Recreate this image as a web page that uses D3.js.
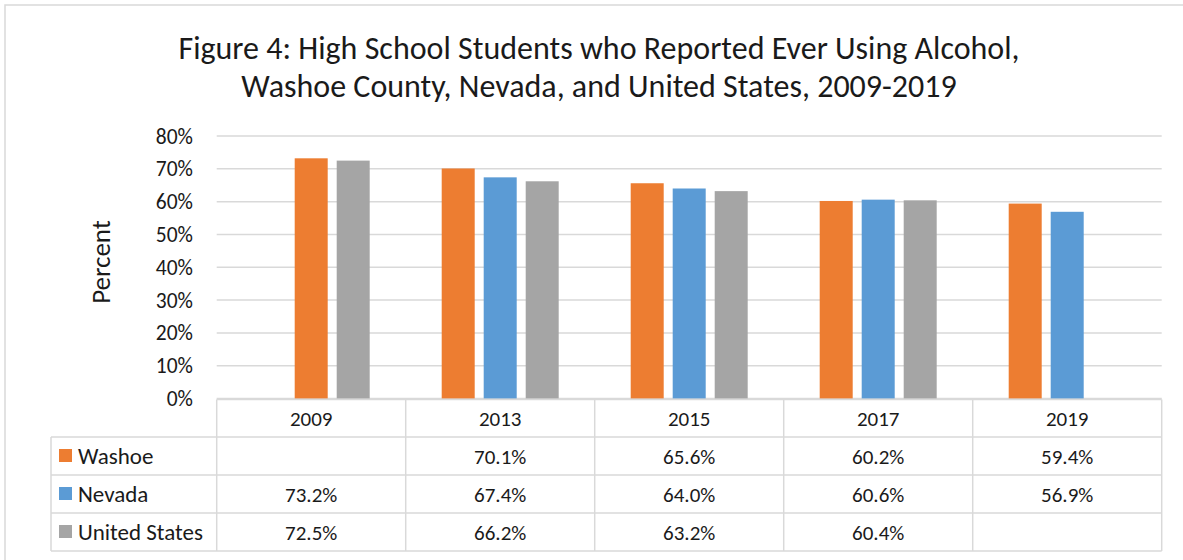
<!DOCTYPE html>
<meta charset="utf-8">
<script src="https://cdn.jsdelivr.net/npm/d3@7"></script>
<style>
body {
	margin: 0;
	background: white;
}
svg text {
	font-family: Carlito, Calibri, Lato, sans-serif;
	fill: #1a1a1a;
}
.grid line, .table line {
	stroke: #d9d9d9;
	stroke-width: 1.5px;
}
</style>
<body>
<svg id="chart"></svg>
<script>
'use strict'

// data
const years    = ["2009", "2013", "2015", "2017", "2019"]
const series   = ["Washoe", "Nevada", "United States"]
const washoe   = [null, 70.1, 65.6, 60.2, 59.4]
const nevada   = [73.2, 67.4, 64.0, 60.6, 56.9]
const usa      = [72.5, 66.2, 63.2, 60.4, null]
const yTicks   = [0, 10, 20, 30, 40, 50, 60, 70, 80]
const titleLines = ["Figure 4: High School Students who Reported Ever Using Alcohol,",
                    "Washoe County, Nevada, and United States, 2009-2019"]

const values = [washoe, nevada, usa]
const colors = ["#ed7d31", "#5b9bd5", "#a5a5a5"]

// the 2009 Nevada point is painted orange in the original
function barColor(si, yi) {
	if (series[si] === "Nevada" && years[yi] === "2009") return colors[0]
	return colors[si]
}

const width  = 1183,
      height = 560,
      plotLeft  = 216.7,
      plotRight = 1161.7,
      plotTop   = 136,
      plotBottom = 398.5,
      tableLeft = 51,
      rowTops   = [399.5, 437, 475, 513, 551]

const svg = d3.select("#chart")
	.attr("width", width)
	.attr("height", height)

// chart border (right and bottom edges fall outside the picture)
svg.append("rect")
	.attr("x", 5).attr("y", 5)
	.attr("width", width + 20).attr("height", height + 20)
	.attr("fill", "white")
	.attr("stroke", "#d9d9d9")
	.attr("stroke-width", 1.5)

// title
svg.append("g").selectAll("text")
	.data(titleLines)
	.enter().append("text")
	.attr("x", 599)
	.attr("y", (d, i) => 59 + i * 38)
	.attr("text-anchor", "middle")
	.style("font-size", "32px")
	.text(d => d)

const x0 = d3.scaleBand().domain(years).range([plotLeft, plotRight])
const x1 = d3.scaleBand().domain(series).range([36, 153]).paddingInner(9 / 42)
const y  = d3.scaleLinear().domain([0, 80]).range([plotBottom, plotTop])

// gridlines
svg.append("g")
	.attr("class", "grid")
	.selectAll("line")
	.data(yTicks)
	.enter().append("line")
	.attr("x1", plotLeft).attr("x2", plotRight)
	.attr("y1", d => y(d)).attr("y2", d => y(d))

// y axis labels
svg.append("g").selectAll("text")
	.data(yTicks)
	.enter().append("text")
	.attr("x", 193)
	.attr("y", d => y(d) + 7.5)
	.attr("text-anchor", "end")
	.style("font-size", "21.5px")
	.text(d => d + "%")

svg.append("text")
	.attr("transform", "translate(110,262) rotate(-90)")
	.attr("text-anchor", "middle")
	.style("font-size", "27px")
	.text("Percent")

// bars
const groups = svg.append("g").selectAll("g")
	.data(years)
	.enter().append("g")
	.attr("transform", d => "translate(" + x0(d) + ",0)")

groups.selectAll("rect")
	.data((yr, yi) => series.map((s, si) => ({ s, si, yi, v: values[si][yi] })).filter(d => d.v !== null))
	.enter().append("rect")
	.attr("x", d => x1(d.s))
	.attr("width", x1.bandwidth())
	.attr("y", d => y(d.v))
	.attr("height", d => y(0) - y(d.v))
	.attr("fill", d => barColor(d.si, d.yi))

// data table
const table = svg.append("g").attr("class", "table")
// horizontal lines
table.selectAll("line.h")
	.data(rowTops)
	.enter().append("line")
	.attr("x1", (d, i) => i === 0 ? plotLeft : tableLeft)
	.attr("x2", plotRight)
	.attr("y1", d => d).attr("y2", d => d)
// vertical lines
const vx = [tableLeft].concat(years.map(d => x0(d)), [plotRight])
table.selectAll("line.v")
	.data(vx)
	.enter().append("line")
	.attr("x1", d => d).attr("x2", d => d)
	.attr("y1", (d, i) => i === 0 ? rowTops[1] : rowTops[0])
	.attr("y2", rowTops[rowTops.length - 1])

const rowMid = i => (rowTops[i] + rowTops[i + 1]) / 2

// header years
table.selectAll("text.year")
	.data(years)
	.enter().append("text")
	.attr("x", d => x0(d) + x0.bandwidth() / 2)
	.attr("y", rowMid(0) + 7.5)
	.attr("text-anchor", "middle")
	.style("font-size", "21px")
	.text(d => d)

// legend keys + values
series.forEach((s, si) => {
	const cy = rowMid(si + 1)
	table.append("rect")
		.attr("x", 59).attr("y", cy - 7)
		.attr("width", 13).attr("height", 13)
		.attr("fill", colors[si])
	table.append("text")
		.attr("x", 78).attr("y", cy + 7.5)
		.style("font-size", "23px")
		.text(s)
	table.selectAll("text.v" + si)
		.data(values[si])
		.enter().append("text")
		.attr("x", (d, i) => x0(years[i]) + x0.bandwidth() / 2)
		.attr("y", cy + 7.5)
		.attr("text-anchor", "middle")
		.style("font-size", "21px")
		.text(d => d === null ? "" : d.toFixed(1) + "%")
})
</script>
</body>
